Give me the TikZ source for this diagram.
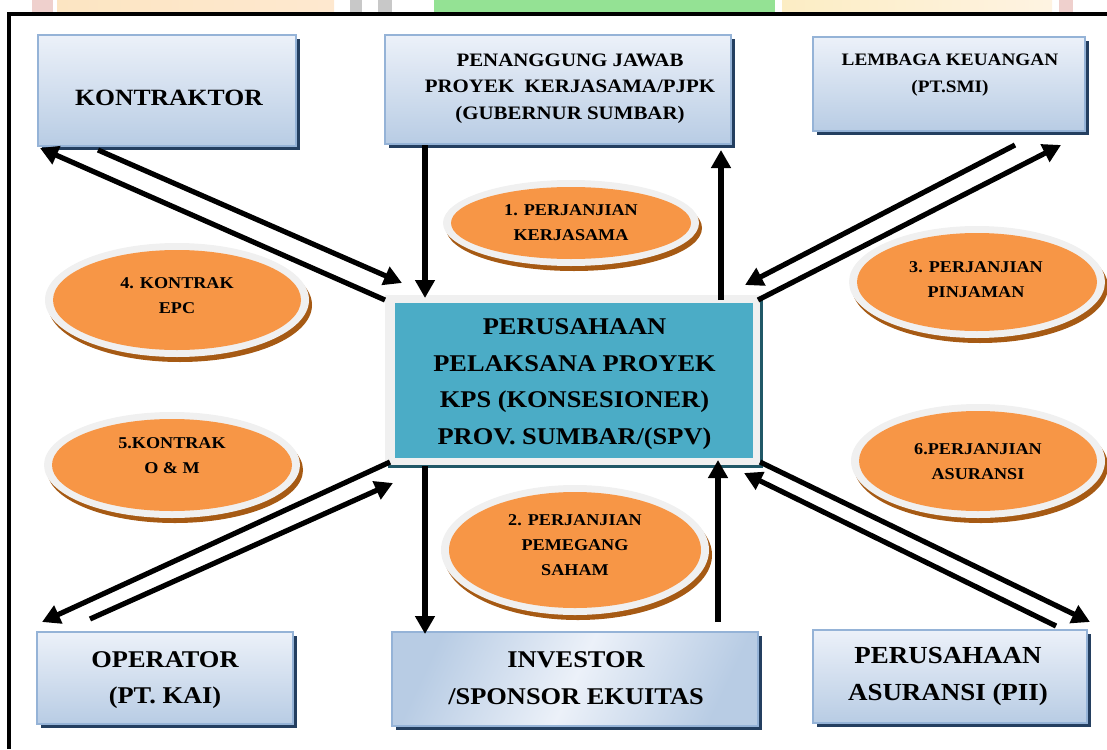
\documentclass[tikz,border=0pt]{standalone}
\usepackage{fontspec}
\setmainfont{Liberation Serif}[FakeStretch=1.1]
\usetikzlibrary{arrows.meta,shadows}
\definecolor{orng}{HTML}{F79646}
\definecolor{rimg}{HTML}{F0F0F0}
\definecolor{brn}{HTML}{A65A14}
\definecolor{btop}{HTML}{ECF1F9}
\definecolor{bbot}{HTML}{B8CCE4}
\definecolor{bbrd}{HTML}{95B3D7}
\definecolor{navy}{HTML}{243F60}
\definecolor{tealc}{HTML}{4BACC6}
\definecolor{tealsh}{HTML}{205867}
\definecolor{wmpink}{HTML}{EFD0CD}
\definecolor{wmorange}{HTML}{FCE5C2}
\definecolor{wmgrey}{HTML}{C8C8C8}
\definecolor{wmgreen}{HTML}{94E294}
\definecolor{wmyellow}{HTML}{FCEDC4}
\begin{document}
\begin{tikzpicture}[x=1pt,y=-1pt,
  bluebox/.style={draw=bbrd, line width=1.6pt, top color=btop, bottom color=bbot,
    general shadow={fill=navy, shadow xshift=4pt, shadow yshift=-4pt}},
  bigtxt/.style={font=\fontsize{24}{36.7}\selectfont\bfseries, align=center},
  midtxt/.style={font=\fontsize{19}{26.7}\selectfont\bfseries, align=center},
  smtxt/.style={font=\fontsize{17.5}{26.7}\selectfont\bfseries, align=center},
  elltxt/.style={font=\fontsize{16.5}{25}\selectfont\bfseries, align=center},
  arr/.style={line width=5.2pt, -{Triangle[length=18pt,width=19pt]}}
]
\useasboundingbox (0,0) rectangle (1107,749);
% watermark strip above the frame
\fill[wmpink] (32,0) rectangle (53,12);
\shade[left color=wmorange, right color=wmorange!70!orange!40] (57,0) rectangle (334,12);
\fill[wmgrey] (350,0) rectangle (362,12);
\fill[wmgrey] (378,0) rectangle (392,12);
\fill[wmgreen] (434,0) rectangle (775,12);
\shade[left color=wmyellow, right color=wmyellow!80!orange!30] (782,0) rectangle (1052,12);
\fill[wmpink] (1059,0) rectangle (1073,12);
% frame
\draw[line width=4pt] (9,749) -- (9,14) -- (1107,14);

\tikzset{ell/.pic={
  \fill[brn] (3,5) ellipse [x radius=\pgfkeysvalueof{/tikz/ellrx}, y radius=\pgfkeysvalueof{/tikz/ellry}];
  \fill[rimg] (0,0) ellipse [x radius=\pgfkeysvalueof{/tikz/ellrx}, y radius=\pgfkeysvalueof{/tikz/ellry}];
  \fill[orng] (0,0) ellipse [x radius=\pgfkeysvalueof{/tikz/ellrx}-8, y radius=\pgfkeysvalueof{/tikz/ellry}-7];
}, ellrx/.initial=128, ellry/.initial=44}

\pic[ellrx=128, ellry=43] at (571,223) {ell};
\pic[ellrx=132, ellry=57] at (177,300) {ell};
\pic[ellrx=128, ellry=56] at (977,282) {ell};
\pic[ellrx=128, ellry=53] at (172,465) {ell};
\pic[ellrx=127, ellry=57] at (978,461) {ell};
\pic[ellrx=134, ellry=65] at (575,550) {ell};

\node[elltxt] (e1) at (571,223) {1. PERJANJIAN\\KERJASAMA};
\node[elltxt] (e4) at (177,296) {4. KONTRAK\\EPC};
\node[elltxt] (e3) at (976,280) {3. PERJANJIAN\\PINJAMAN};
\node[elltxt] (e5) at (172,456) {5.KONTRAK\\O \& M};
\node[elltxt] (e6) at (978,462) {6.PERJANJIAN\\ASURANSI};
\node[elltxt] (e2) at (575,545) {2. PERJANJIAN\\PEMEGANG\\SAHAM};

% outer boxes
\node[bluebox, minimum width=258, minimum height=111] (kon) at (167,90.5) {};
\node[bluebox, minimum width=346, minimum height=109] (pjpk) at (558,89.5) {};
\node[bluebox, minimum width=272, minimum height=94] (lem) at (949,84) {};
\node[bluebox, minimum width=256, minimum height=92] (ope) at (165,678) {};
\node[draw=bbrd, line width=1.6pt, shading=axis, top color=bbot, bottom color=bbot, middle color=btop, shading angle=65,
  general shadow={fill=navy, shadow xshift=4pt, shadow yshift=-4pt},
  minimum width=366, minimum height=94] (inv) at (575,679) {};
\node[bluebox, minimum width=274, minimum height=93] (asu) at (950,676.5) {};

\node[font=\fontsize{23.3}{30}\selectfont\bfseries] (konT) at (169,97.5) {KONTRAKTOR};
\node[midtxt] (pjpkT) at (570,88.5) {PENANGGUNG JAWAB\\PROYEK~ KERJASAMA/PJPK\\(GUBERNUR SUMBAR)};
\node[smtxt] (lemT) at (950,75) {LEMBAGA KEUANGAN\\(PT.SMI)};
\node[bigtxt] (opeT) at (165,680) {OPERATOR\\(PT. KAI)};
\node[bigtxt] (invT) at (576,678.5) {INVESTOR\\/SPONSOR EKUITAS};
\node[font=\fontsize{24.5}{37}\selectfont\bfseries, align=center] (asuT) at (948,676.5) {PERUSAHAAN\\ASURANSI (PII)};

% central box
\node[fill=rimg, minimum width=375, minimum height=170, inner sep=0pt,
  general shadow={fill=tealsh, shadow xshift=3pt, shadow yshift=-3pt}] (spv) at (572.5,380) {};
\node[fill=tealc, minimum width=358, minimum height=155, inner sep=0pt] (spvIn) at (574,380.5) {};
\node[font=\fontsize{24}{36.5}\selectfont\bfseries, align=center] (spvT) at (574.5,384) {PERUSAHAAN\\PELAKSANA PROYEK\\KPS (KONSESIONER)\\PROV. SUMBAR/(SPV)};

% connector end points
\coordinate (a1s) at (385,300); \coordinate (a1e) at (40,148);
\coordinate (a2s) at (98,150);  \coordinate (a2e) at (402,283);
\coordinate (a3s) at (425,145); \coordinate (a3e) at (425,298);
\coordinate (a4s) at (721,300); \coordinate (a4e) at (721,150);
\coordinate (a5s) at (1015,145); \coordinate (a5e) at (745,285);
\coordinate (a6s) at (758,300); \coordinate (a6e) at (1061,145);
\coordinate (b1s) at (390,462); \coordinate (b1e) at (42,622);
\coordinate (b2s) at (90,619);  \coordinate (b2e) at (393,483);
\coordinate (b3s) at (425,466); \coordinate (b3e) at (425,634);
\coordinate (b4s) at (718,622); \coordinate (b4e) at (718,460);
\coordinate (b5s) at (760,462); \coordinate (b5e) at (1090,622);
\coordinate (b6s) at (1056,626); \coordinate (b6e) at (744,473);

\draw[arr] (a1s) -- (a1e);
\draw[arr] (a2s) -- (a2e);
\draw[arr] (a3s) -- (a3e);
\draw[arr] (a4s) -- (a4e);
\draw[arr] (a5s) -- (a5e);
\draw[arr] (a6s) -- (a6e);
\draw[arr] (b1s) -- (b1e);
\draw[arr] (b2s) -- (b2e);
\draw[arr] (b3s) -- (b3e);
\draw[arr] (b4s) -- (b4e);
\draw[arr] (b5s) -- (b5e);
\draw[arr] (b6s) -- (b6e);
\end{tikzpicture}
\end{document}
